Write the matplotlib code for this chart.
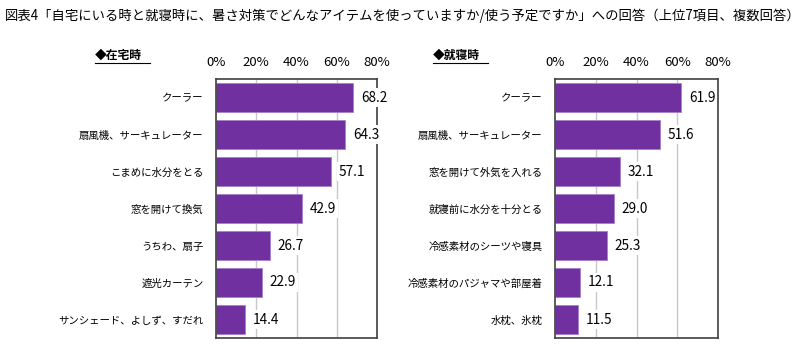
import matplotlib.pyplot as plt
import numpy as np

plt.rcParams['font.family'] = ['Noto Sans CJK JP', 'DejaVu Sans']

title = '図表4「自宅にいる時と就寝時に、暑さ対策でどんなアイテムを使っていますか/使う予定ですか」への回答（上位7項目、複数回答）'

home_items = ['クーラー', '扇風機、サーキュレーター', 'こまめに水分をとる', '窓を開けて換気',
              'うちわ、扇子', '遮光カーテン', 'サンシェード、よしず、すだれ']
home_vals = [68.2, 64.3, 57.1, 42.9, 26.7, 22.9, 14.4]

sleep_items = ['クーラー', '扇風機、サーキュレーター', '窓を開けて外気を入れる', '就寝前に水分を十分とる',
               '冷感素材のシーツや寝具', '冷感素材のパジャマや部屋着', '水枕、氷枕']
sleep_vals = [61.9, 51.6, 32.1, 29.0, 25.3, 12.1, 11.5]

xticks = [0, 20, 40, 60, 80]
xtick_labels = ['0%', '20%', '40%', '60%', '80%']

fig = plt.figure(figsize=(8.1, 3.52), dpi=100)
fig.text(0.006, 0.955, title, fontsize=9.6, ha='left', va='center')

W, H = 810, 352
panels = [
    (216, 377, home_items, home_vals, '◆在宅時', 95),
    (555, 718, sleep_items, sleep_vals, '◆就寝時', 433),
]
for x0, x1, items, vals, sub, sx in panels:
    ax = fig.add_axes([x0 / W, 1 - 338 / H, (x1 - x0) / W, (338 - 79) / H])
    y = np.arange(len(items))
    ax.barh(y, vals, height=0.78, color='#7030A0', edgecolor='#A77FCB', linewidth=0.6, zorder=2)
    ax.set_xlim(0, 80)
    ax.set_ylim(len(items) - 0.5, -0.5)
    ax.set_xticks(xticks)
    ax.set_xticklabels(xtick_labels, fontsize=9.5)
    ax.xaxis.tick_top()
    ax.tick_params(axis='x', length=0, pad=7)
    ax.set_yticks(y)
    ax.set_yticklabels(items, fontsize=7.5)
    ax.tick_params(axis='y', length=0, pad=9)
    for g in xticks[1:-1]:
        ax.axvline(g, color='#C8C8C8', linewidth=1, zorder=1)
    for s in ax.spines.values():
        s.set_color('#404040')
        s.set_linewidth(1.2)
        s.set_zorder(3)
    for yi, v in zip(y, vals):
        ax.text(v + 3.8, yi, f'{v:.1f}', fontsize=9.8, ha='left', va='center', zorder=5,
                bbox=dict(facecolor='white', edgecolor='none', pad=1.5))
    fig.text(sx / W, 1 - 55 / H, sub, fontsize=8.5, ha='left', va='center',
             fontweight='bold')
    fig.add_artist(plt.Line2D([sx / W, (sx + 55) / W], [1 - 63 / H, 1 - 63 / H],
                              color='black', linewidth=0.8))

fig.savefig('out.png', dpi=100)
